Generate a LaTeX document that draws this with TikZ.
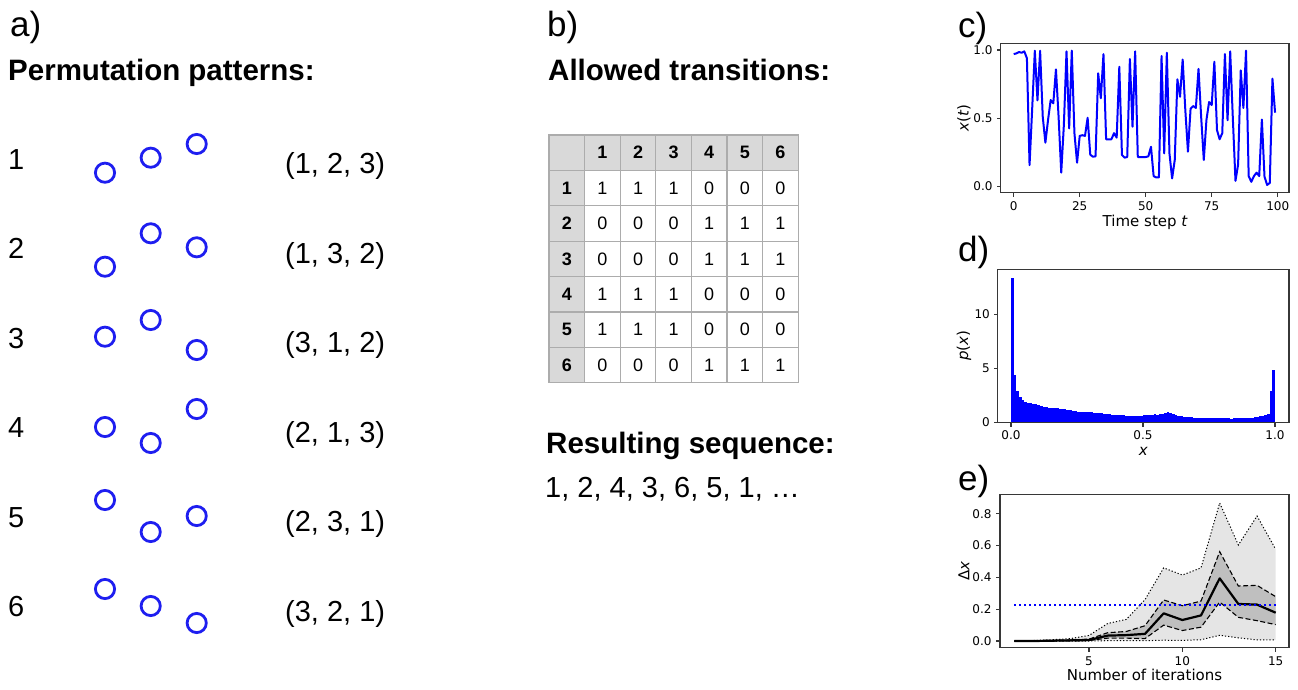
\documentclass[tikz,border=0pt]{standalone}
\usepackage{fontspec}
\setmainfont{Liberation Sans}
\newfontfamily\plotfont{DejaVu Sans}
\definecolor{patblue}{RGB}{30,30,240}
\definecolor{plotblue}{RGB}{0,0,255}
\definecolor{cellgray}{RGB}{217,217,217}
\definecolor{gridgray}{RGB}{172,172,172}
\definecolor{bandlight}{RGB}{229,229,229}
\definecolor{banddark}{RGB}{191,191,191}
\definecolor{spine}{RGB}{55,55,55}

\begin{document}
\begin{tikzpicture}[x=1pt,y=-1pt,
  panellabel/.style={anchor=base west,inner sep=0pt,font=\fontsize{35}{40}\selectfont},
  heading/.style={anchor=base west,inner sep=0pt,font=\fontsize{29.5}{34}\selectfont\bfseries},
  plain/.style={anchor=base west,inner sep=0pt,font=\fontsize{29}{34}\selectfont},
  dot/.style={circle,draw=patblue,line width=2.8pt,minimum size=19.2pt,inner sep=0pt},
  cell/.style={draw=gridgray,line width=1.2pt,minimum width=35.6pt,minimum height=35.4pt,inner sep=0pt,font=\fontsize{18}{21}\selectfont},
  headcell/.style={cell,fill=cellgray,font=\fontsize{18}{21}\selectfont\bfseries},
  frame/.style={draw=spine,line width=1.1pt},
  tickmark/.style={spine,line width=1.1pt},
  ticklbl/.style={inner sep=0pt,font=\plotfont\fontsize{12}{14}\selectfont},
  axislbl/.style={inner sep=0pt,font=\plotfont\fontsize{15}{18}\selectfont}]
%set diagram size to the 1298 x 689 reference
\fill[white] (0,0) rectangle (1298,689);
\useasboundingbox (0,0) rectangle (1298,689);

%%% a) permutation patterns
% Text Node
\node[panellabel] (lbl-a) at (10,36.5) {a)};
% Text Node
\node[heading] (title-a) at (8,80) {Permutation patterns:};
%Shape: Circle rows
\foreach \r/\ya/\yb/\yc/\tup in {1/172.7/157.7/144/{(1, 2, 3)},
    2/266.7/233.3/247.3/{(1, 3, 2)}, 3/336.7/320/350/{(3, 1, 2)},
    4/427/443/409/{(2, 1, 3)}, 5/500/532/516/{(2, 3, 1)},
    6/589/606/623/{(3, 2, 1)}}
{
  \node[plain] (row\r) at (8,{169.3+89.5*(\r-1)}) {\r};
  \node[dot] (pat\r-a) at (105,\ya) {};
  \node[dot] (pat\r-b) at (150.7,\yb) {};
  \node[dot] (pat\r-c) at (196.7,\yc) {};
  \node[plain] (tup\r) at (285,{173.5+89.5*(\r-1)}) {\tup};
}

%%% b) transition table
% Text Node
\node[panellabel] (lbl-b) at (547,36.5) {b)};
% Text Node
\node[heading] (title-b) at (548,80) {Allowed transitions:};
% header row
\node[headcell] (tab-0-0) at (566.8,152.7) {};
\foreach \c in {1,...,6}
  \node[headcell] (tab-0-\c) at ({549+35.6*(\c+0.5)},152.7) {\c};
% body rows
\foreach \r/\vals in {1/{1,1,1,0,0,0},2/{0,0,0,1,1,1},3/{0,0,0,1,1,1},
    4/{1,1,1,0,0,0},5/{1,1,1,0,0,0},6/{0,0,0,1,1,1}}
{
  \node[headcell] (tab-\r-0) at (566.8,{135+35.4*(\r+0.5)}) {\r};
  \foreach \v [count=\c] in \vals
    \node[cell] (tab-\r-\c) at ({549+35.6*(\c+0.5)},{135+35.4*(\r+0.5)}) {\v};
}
% Text Node
\node[heading] (title-seq) at (546,453.3) {Resulting sequence:};
% Text Node
\node[plain] (seq) at (545,497) {1, 2, 4, 3, 6, 5, 1, …};

%%% c) time series
\node[panellabel] (lbl-c) at (958,37) {c)};
\begin{scope}[shift={(1013.7,186.3)},x=2.64pt,y=136.3pt]
\draw[plotblue,line width=2pt,line join=round] plot coordinates {
  (0,.97) (1,.975) (2,.985) (3,.98) (4,.99) (5,.94) (6,.156) (7,.57) (8,.995) (9,.63)
  (10,.995) (11,.51) (12,.32) (13,.486) (14,.633) (15,.609) (16,.858) (17,.51) (18,.10) (19,.45)
  (20,.99) (21,.425) (22,.995) (23,.39) (24,.173) (25,.37) (26,.375) (27,.37) (28,.503) (29,.232)
  (30,.217) (31,.22) (32,.829) (33,.646) (34,.97) (35,.345) (36,.345) (37,.345) (38,.39) (39,.357)
  (40,.877) (41,.23) (42,.21) (43,.215) (44,.934) (45,.437) (46,.99) (47,.215) (48,.215) (49,.215)
  (50,.215) (51,.22) (52,.29) (53,.075) (54,.065) (55,.065) (56,.956) (57,.242) (58,.98) (59,.24)
  (60,.058) (61,.193) (62,.785) (63,.657) (64,.93) (65,.56) (66,.254) (67,.57) (68,.589) (69,.575)
  (70,.861) (71,.51) (72,.193) (73,.486) (74,.618) (75,.596) (76,.914) (77,.413) (78,.345) (79,.39)
  (80,.97) (81,.485) (82,.99) (83,.5) (84,.04) (85,.16) (86,.85) (87,.575) (88,.995) (89,.075)
  (90,.033) (91,.075) (92,.1) (93,.075) (94,.49) (95,.07) (96,.01) (97,.025) (98,.79) (99,.54)};
\end{scope}
\draw[frame] (1000.7,43.7) rectangle (1289,192.3);
\foreach \t [count=\k] in {0,25,50,75,100}
{
  \draw[tickmark] ({1013.7+2.64*\t},192.3) -- ++(0,4.2);
  \node[ticklbl,anchor=north] (c-x\k) at ({1013.7+2.64*\t},201.5) {\t};
}
\foreach \v/\lbl [count=\k] in {0/0.0,0.5/0.5,1/1.0}
{
  \draw[tickmark] (1000.7,{186.3-136.3*\v}) -- ++(-4.2,0);
  \node[ticklbl,anchor=east] (c-y\k) at (992.7,{186.3-136.3*\v}) {\lbl};
}
\node[axislbl,anchor=base] (c-xlab) at (1145,226.7) {Time step {\itshape t}};
\node[axislbl,rotate=90] (c-ylab) at (964,118) {{\itshape x}({\itshape t})};

%%% d) histogram
\node[panellabel] (lbl-d) at (958,261.7) {d)};
\begin{scope}[shift={(1011,422.3)},x=264pt,y=10.8pt]
\foreach \p [count=\i from 0] in {13.4,4.35,2.87,2.35,2.05,1.88,1.82,1.78,1.72,1.65,
    1.6,1.5,1.42,1.38,1.3,1.28,1.32,1.3,1.25,1.22,
    1.2,1.15,1.12,1.08,1.02,1.0,0.95,0.92,0.95,0.95,
    0.93,0.9,0.88,0.85,0.82,0.8,0.78,0.75,0.72,0.7,
    0.68,0.66,0.65,0.63,0.62,0.62,0.6,0.58,0.55,0.62,
    0.7,0.7,0.7,0.72,0.78,0.72,0.75,0.8,0.85,0.95,
    0.85,0.75,0.65,0.6,0.55,0.52,0.5,0.48,0.45,0.42,
    0.4,0.4,0.4,0.4,0.4,0.4,0.4,0.4,0.4,0.4,
    0.4,0.4,0.4,0.35,0.4,0.4,0.4,0.4,0.4,0.4,
    0.4,0.42,0.45,0.5,0.55,0.6,0.65,0.8,2.9,4.85}
  \fill[plotblue] ({\i/100},0) rectangle ({(\i+1)/100},\p);
\end{scope}
\draw[frame] (997.7,269.3) rectangle (1289,422.3);
\foreach \v/\lbl [count=\k] in {0/0.0,0.5/0.5,1/1.0}
{
  \draw[tickmark] ({1011+264*\v},422.3) -- ++(0,4.2);
  \node[ticklbl,anchor=north] (d-x\k) at ({1011+264*\v},430.5) {\lbl};
}
\foreach \v [count=\k] in {0,5,10}
{
  \draw[tickmark] (997.7,{422.3-10.8*\v}) -- ++(-4.2,0);
  \node[ticklbl,anchor=east] (d-y\k) at (990,{422.3-10.8*\v}) {\v};
}
\node[axislbl,anchor=base] (d-xlab) at (1143.3,455) {\itshape x};
\node[axislbl,rotate=90] (d-ylab) at (964,345.8) {{\itshape p}({\itshape x})};

%%% e) spread over iterations
\node[panellabel] (lbl-e) at (958,490) {e)};
\begin{scope}[shift={(995.63,641)},x=18.67pt,y=159pt]
% outer band
\fill[bandlight] (1,0) -- (2,0.003) -- (3,0.008) -- (4,0.015) -- (5,0.035) -- (6,0.11) -- (7,0.136)
  -- (8,0.26) -- (9,0.46) -- (10,0.415) -- (11,0.46) -- (12,0.868) -- (13,0.604) -- (14,0.786) -- (15,0.577)
  -- (15,0.007) -- (14,0.007) -- (13,0.02) -- (12,0.036) -- (11,0.008) -- (10,0.004) -- (9,0.005)
  -- (8,0.002) -- (7,0.002) -- (6,0.002) -- (5,0) -- (1,0) -- cycle;
% inner band
\fill[banddark] (1,0) -- (2,0.001) -- (3,0.004) -- (4,0.007) -- (5,0.012) -- (6,0.052) -- (7,0.06)
  -- (8,0.096) -- (9,0.258) -- (10,0.222) -- (11,0.251) -- (12,0.562) -- (13,0.346) -- (14,0.35) -- (15,0.279)
  -- (15,0.103) -- (14,0.128) -- (13,0.149) -- (12,0.245) -- (11,0.087) -- (10,0.066) -- (9,0.10)
  -- (8,0.015) -- (7,0.018) -- (6,0.018) -- (5,0.003) -- (4,0.001) -- (3,0) -- (1,0) -- cycle;
% dotted limits
\draw[line width=1pt,dash pattern=on 1.2pt off 2pt] (1,0) -- (2,0.003) -- (3,0.008) -- (4,0.015) -- (5,0.035)
  -- (6,0.11) -- (7,0.136) -- (8,0.26) -- (9,0.46) -- (10,0.415) -- (11,0.46) -- (12,0.868) -- (13,0.604)
  -- (14,0.786) -- (15,0.577);
\draw[line width=1pt,dash pattern=on 1.2pt off 2pt] (1,0) -- (5,0) -- (6,0.002) -- (7,0.002) -- (8,0.002)
  -- (9,0.005) -- (10,0.004) -- (11,0.008) -- (12,0.036) -- (13,0.02) -- (14,0.007) -- (15,0.007);
% dashed limits
\draw[line width=1.1pt,dash pattern=on 5pt off 2.5pt] (1,0) -- (2,0.001) -- (3,0.004) -- (4,0.007) -- (5,0.012)
  -- (6,0.052) -- (7,0.06) -- (8,0.096) -- (9,0.258) -- (10,0.222) -- (11,0.251) -- (12,0.562) -- (13,0.346)
  -- (14,0.35) -- (15,0.279);
\draw[line width=1.1pt,dash pattern=on 5pt off 2.5pt] (1,0) -- (3,0) -- (4,0.001) -- (5,0.003) -- (6,0.018)
  -- (7,0.018) -- (8,0.015) -- (9,0.10) -- (10,0.066) -- (11,0.087) -- (12,0.245) -- (13,0.149)
  -- (14,0.128) -- (15,0.103);
% median
\draw[line width=2.2pt,line join=round] (1,0) -- (2,0) -- (3,0.002) -- (4,0.004) -- (5,0.006) -- (6,0.034)
  -- (7,0.037) -- (8,0.045) -- (9,0.174) -- (10,0.132) -- (11,0.161) -- (12,0.394) -- (13,0.233)
  -- (14,0.229) -- (15,0.178);
% reference level
\draw[plotblue,line width=2pt,dash pattern=on 2pt off 3pt] (1,0.224) -- (15,0.224);
\end{scope}
\draw[frame] (1000,494.3) rectangle (1289,647.7);
\foreach \n [count=\k] in {5,10,15}
{
  \draw[tickmark] ({995.63+18.67*\n},647.7) -- ++(0,4.2);
  \node[ticklbl,anchor=north] (e-x\k) at ({995.63+18.67*\n},656.5) {\n};
}
\foreach \v [count=\k] in {0.0,0.2,0.4,0.6,0.8}
{
  \draw[tickmark] (1000,{641-159*\v}) -- ++(-4.2,0);
  \node[ticklbl,anchor=east] (e-y\k) at (991.7,{641-159*\v}) {\v};
}
\node[axislbl,anchor=base] (e-xlab) at (1144.5,680.5) {Number of iterations};
\node[axislbl,rotate=90] (e-ylab) at (964,571) {Δ{\itshape x}};

\end{tikzpicture}
\end{document}
